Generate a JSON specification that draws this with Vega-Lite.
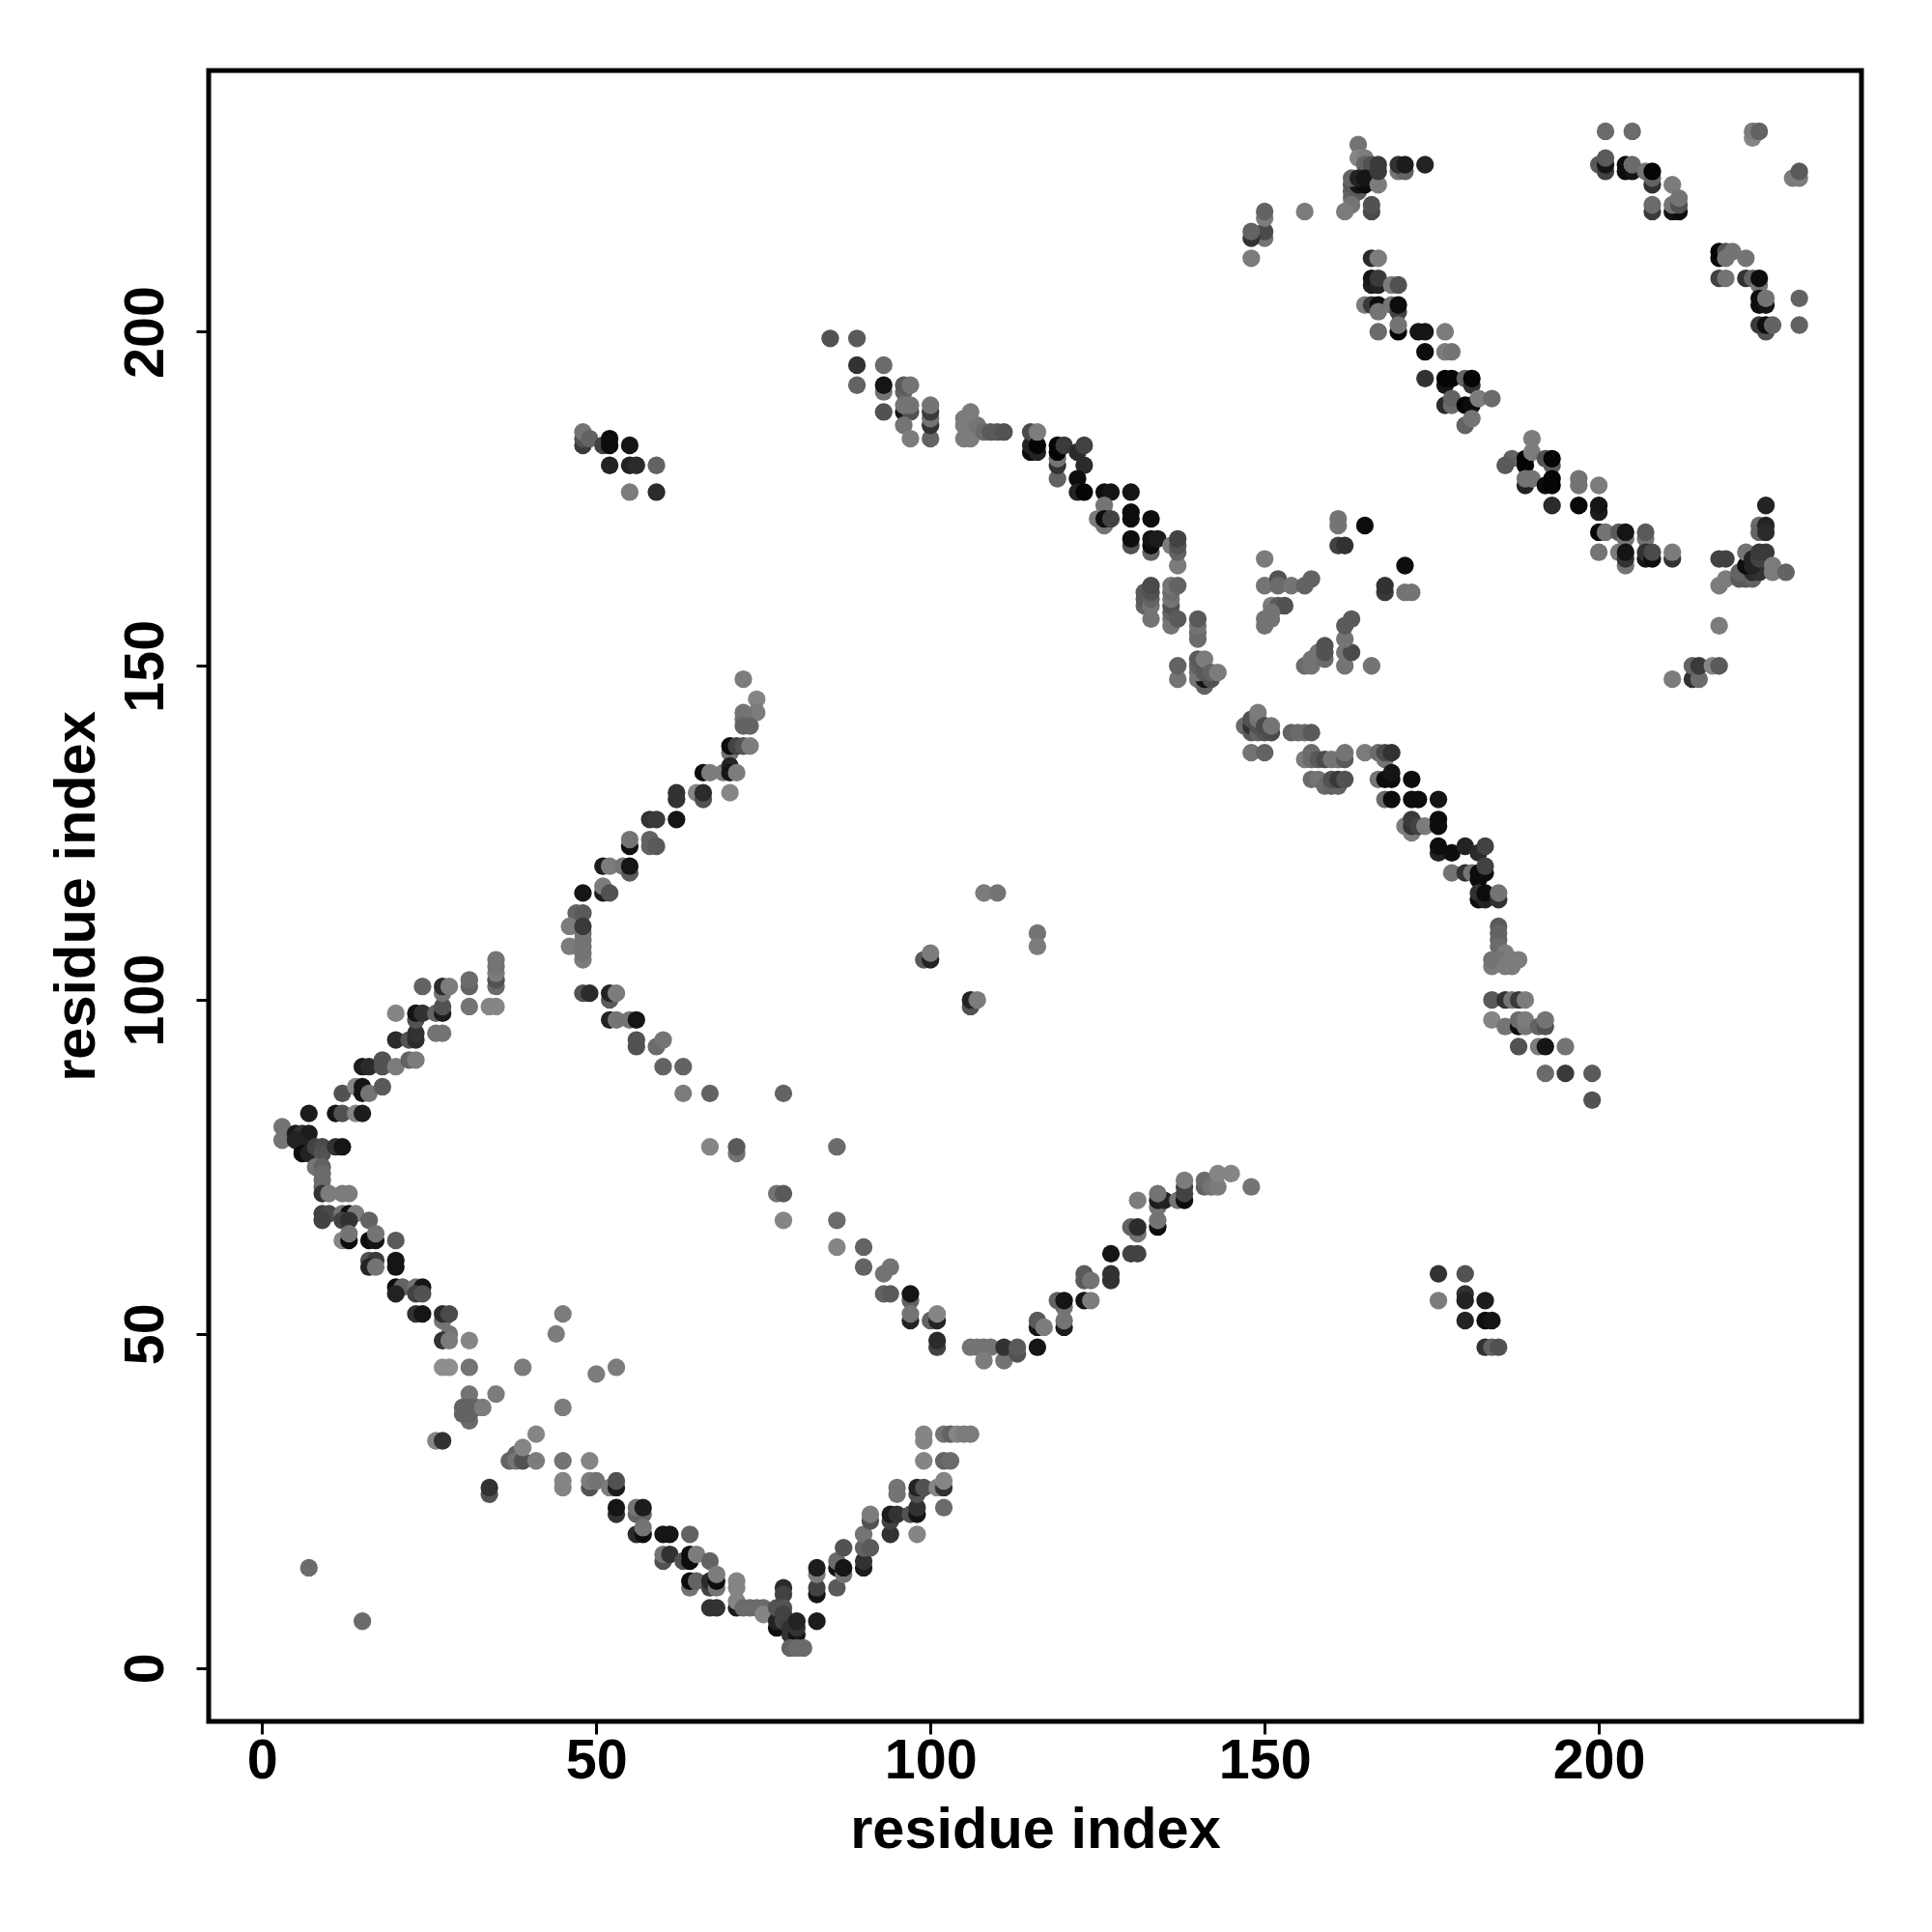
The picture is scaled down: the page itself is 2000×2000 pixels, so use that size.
{"$schema":"https://vega.github.io/schema/vega-lite/v6.json","autosize":"none","padding":{"left":216,"top":73,"right":73,"bottom":218},"width":1711,"height":1709,"background":"white","view":{"stroke":"black","strokeWidth":5,"fill":"white"},
"data":{"values":[
{"i":7,"j":15,"s":0.65},{"i":15,"j":7,"s":0.65},
{"i":3,"j":81,"s":0.7},{"i":3,"j":79,"s":0.7},{"i":5,"j":80,"s":0.15},{"i":6,"j":80,"s":0.3},{"i":7,"j":80,"s":0.15},{"i":5,"j":79,"s":0.2},{"i":6,"j":78,"s":0.2},{"i":6,"j":77,"s":0.05},{"i":7,"j":77,"s":0.2},{"i":8,"j":78,"s":0.4},{"i":9,"j":78,"s":0.45},{"i":9,"j":77,"s":0.5},{"i":11,"j":78,"s":0.3},{"i":12,"j":78,"s":0.1},
{"i":8,"j":75,"s":0.7},{"i":9,"j":75,"s":0.6},{"i":9,"j":74,"s":0.65},{"i":9,"j":73,"s":0.65},{"i":9,"j":72,"s":0.65},{"i":9,"j":71,"s":0.3},{"i":10,"j":71,"s":0.75},{"i":12,"j":71,"s":0.75},{"i":13,"j":71,"s":0.75},
{"i":9,"j":68,"s":0.4},{"i":10,"j":68,"s":0.45},{"i":9,"j":67,"s":0.4},{"i":12,"j":68,"s":0.7},{"i":13,"j":68,"s":0.05},{"i":14,"j":68,"s":0.75},{"i":12,"j":67,"s":0.4},{"i":13,"j":67,"s":0.3},{"i":16,"j":67,"s":0.6},
{"i":12,"j":64,"s":0.8},{"i":13,"j":64,"s":0.05},{"i":13,"j":65,"s":0.7},{"i":16,"j":64,"s":0.05},{"i":17,"j":64,"s":0.1},{"i":17,"j":65,"s":0.7},{"i":20,"j":64,"s":0.55},
{"i":16,"j":61,"s":0.5},{"i":17,"j":61,"s":0.35},{"i":20,"j":61,"s":0.1},{"i":16,"j":60,"s":0.2},{"i":17,"j":60,"s":0.7},{"i":20,"j":60,"s":0.1},
{"i":20,"j":57,"s":0.05},{"i":21,"j":57,"s":0.6},{"i":23,"j":57,"s":0.7},{"i":24,"j":57,"s":0.1},{"i":20,"j":56,"s":0.2},{"i":23,"j":56,"s":0.4},{"i":24,"j":56,"s":0.5},
{"i":23,"j":53,"s":0.3},{"i":24,"j":53,"s":0.1},{"i":27,"j":52,"s":0.7},{"i":27,"j":53,"s":0.25},{"i":28,"j":53,"s":0.45},{"i":45,"j":53,"s":0.75},{"i":28,"j":50,"s":0.7},{"i":44,"j":50,"s":0.75},{"i":27,"j":49,"s":0.3},{"i":28,"j":49,"s":0.75},{"i":31,"j":49,"s":0.8},
{"i":27,"j":45,"s":0.85},{"i":28,"j":45,"s":0.85},{"i":31,"j":45,"s":0.7},{"i":39,"j":45,"s":0.75},{"i":53,"j":45,"s":0.75},{"i":50,"j":44,"s":0.75},{"i":31,"j":41,"s":0.7},{"i":35,"j":41,"s":0.75},
{"i":31,"j":37,"s":0.65},{"i":30,"j":38,"s":0.6},{"i":31,"j":38,"s":0.6},{"i":30,"j":39,"s":0.6},{"i":31,"j":39,"s":0.6},{"i":32,"j":39,"s":0.6},{"i":33,"j":39,"s":0.75},{"i":45,"j":39,"s":0.75},
{"i":26,"j":34,"s":0.8},{"i":27,"j":34,"s":0.3},{"i":41,"j":35,"s":0.8},{"i":38,"j":32,"s":0.6},{"i":37,"j":31,"s":0.6},{"i":38,"j":31,"s":0.7},{"i":39,"j":31,"s":0.5},{"i":39,"j":33,"s":0.8},{"i":41,"j":31,"s":0.75},{"i":45,"j":31,"s":0.7},{"i":49,"j":31,"s":0.8},
{"i":34,"j":26,"s":0.5},{"i":34,"j":27,"s":0.3},{"i":45,"j":27,"s":0.8},{"i":45,"j":28,"s":0.8},{"i":49,"j":27,"s":0.5},{"i":49,"j":28,"s":0.75},{"i":50,"j":28,"s":0.7},{"i":52,"j":27,"s":0.75},{"i":53,"j":27,"s":0.15},{"i":53,"j":28,"s":0.5},
{"i":53,"j":23,"s":0.3},{"i":53,"j":24,"s":0.1},{"i":56,"j":23,"s":0.6},{"i":57,"j":23,"s":0.6},{"i":56,"j":24,"s":0.7},{"i":57,"j":24,"s":0.15},
{"i":56,"j":20,"s":0.25},{"i":57,"j":20,"s":0.05},{"i":57,"j":21,"s":0.7},{"i":60,"j":20,"s":0.1},{"i":61,"j":20,"s":0.1},{"i":64,"j":20,"s":0.6},
{"i":60,"j":16,"s":0.5},{"i":60,"j":17,"s":0.7},{"i":61,"j":17,"s":0.3},{"i":63,"j":16,"s":0.5},{"i":64,"j":16,"s":0.05},{"i":64,"j":17,"s":0.05},{"i":65,"j":17,"s":0.75},{"i":67,"j":16,"s":0.6},
{"i":64,"j":12,"s":0.7},{"i":64,"j":13,"s":0.05},{"i":65,"j":13,"s":0.6},{"i":67,"j":12,"s":0.4},{"i":67,"j":13,"s":0.25},{"i":68,"j":12,"s":0.7},{"i":68,"j":13,"s":0.05},{"i":68,"j":14,"s":0.75},{"i":67,"j":9,"s":0.3},{"i":68,"j":9,"s":0.3},
{"i":71,"j":9,"s":0.15},{"i":71,"j":10,"s":0.8},{"i":71,"j":12,"s":0.8},{"i":71,"j":13,"s":0.8},{"i":72,"j":9,"s":0.65},{"i":73,"j":9,"s":0.65},{"i":74,"j":9,"s":0.65},{"i":75,"j":9,"s":0.65},{"i":75,"j":8,"s":0.8},
{"i":77,"j":6,"s":0.05},{"i":77,"j":7,"s":0.2},{"i":77,"j":9,"s":0.5},{"i":78,"j":12,"s":0.25},{"i":78,"j":11,"s":0.4},{"i":78,"j":9,"s":0.5},{"i":78,"j":8,"s":0.4},{"i":78,"j":7,"s":0.4},{"i":79,"j":6,"s":0.3},{"i":79,"j":5,"s":0.3},{"i":80,"j":5,"s":0.1},{"i":80,"j":6,"s":0.3},{"i":80,"j":7,"s":0.2},{"i":79,"j":3,"s":0.6},{"i":80,"j":3,"s":0.65},{"i":81,"j":3,"s":0.65},{"i":83,"j":7,"s":0.15},
{"i":83,"j":11,"s":0.1},{"i":83,"j":12,"s":0.4},{"i":83,"j":14,"s":0.75},{"i":83,"j":15,"s":0.15},{"i":86,"j":12,"s":0.55},{"i":86,"j":15,"s":0.1},{"i":86,"j":16,"s":0.65},{"i":87,"j":14,"s":0.7},{"i":87,"j":15,"s":0.1},{"i":87,"j":18,"s":0.5},
{"i":90,"j":15,"s":0.15},{"i":90,"j":16,"s":0.3},{"i":90,"j":18,"s":0.6},{"i":90,"j":20,"s":0.7},{"i":91,"j":18,"s":0.55},{"i":91,"j":22,"s":0.5},{"i":91,"j":23,"s":0.75},
{"i":94,"j":20,"s":0.3},{"i":94,"j":22,"s":0.4},{"i":94,"j":23,"s":0.15},{"i":95,"j":23,"s":0.3},{"i":95,"j":26,"s":0.7},{"i":95,"j":27,"s":0.7},{"i":97,"j":23,"s":0.5},{"i":98,"j":20,"s":0.8},{"i":98,"j":23,"s":0.1},{"i":98,"j":24,"s":0.3},{"i":98,"j":26,"s":0.5},{"i":98,"j":27,"s":0.2},{"i":99,"j":27,"s":0.5},{"i":101,"j":27,"s":0.8},{"i":102,"j":27,"s":0.3},{"i":102,"j":28,"s":0.8},{"i":102,"j":24,"s":0.65},
{"i":99,"j":31,"s":0.8},{"i":102,"j":31,"s":0.6},{"i":103,"j":31,"s":0.65},{"i":99,"j":34,"s":0.8},{"i":99,"j":35,"s":0.8},{"i":102,"j":35,"s":0.7},{"i":103,"j":35,"s":0.6},{"i":104,"j":35,"s":0.8},{"i":105,"j":35,"s":0.75},{"i":106,"j":35,"s":0.75},
{"i":7,"j":83,"s":0.15},{"i":11,"j":83,"s":0.1},{"i":12,"j":83,"s":0.5},{"i":14,"j":83,"s":0.8},{"i":15,"j":83,"s":0.15},{"i":12,"j":86,"s":0.5},{"i":14,"j":87,"s":0.8},{"i":15,"j":86,"s":0.1},{"i":15,"j":87,"s":0.1},{"i":16,"j":86,"s":0.7},{"i":18,"j":87,"s":0.55},
{"i":15,"j":90,"s":0.15},{"i":16,"j":90,"s":0.25},{"i":18,"j":90,"s":0.5},{"i":18,"j":91,"s":0.5},{"i":20,"j":90,"s":0.75},{"i":22,"j":91,"s":0.6},{"i":23,"j":91,"s":0.75},{"i":20,"j":94,"s":0.25},{"i":22,"j":94,"s":0.5},{"i":23,"j":94,"s":0.25},{"i":23,"j":95,"s":0.3},{"i":26,"j":95,"s":0.7},{"i":27,"j":95,"s":0.7},{"i":23,"j":97,"s":0.5},
{"i":20,"j":98,"s":0.8},{"i":23,"j":98,"s":0.1},{"i":24,"j":98,"s":0.3},{"i":26,"j":98,"s":0.6},{"i":27,"j":98,"s":0.15},{"i":27,"j":99,"s":0.5},{"i":24,"j":102,"s":0.6},{"i":27,"j":101,"s":0.7},{"i":27,"j":102,"s":0.25},{"i":28,"j":102,"s":0.75},
{"i":31,"j":99,"s":0.7},{"i":31,"j":102,"s":0.6},{"i":31,"j":103,"s":0.65},{"i":34,"j":99,"s":0.8},{"i":35,"j":99,"s":0.8},{"i":35,"j":102,"s":0.65},{"i":35,"j":103,"s":0.5},{"i":35,"j":104,"s":0.75},{"i":35,"j":105,"s":0.7},{"i":35,"j":106,"s":0.7},
{"i":67,"j":86,"s":0.6},{"i":78,"j":86,"s":0.6},{"i":67,"j":78,"s":0.8},{"i":71,"j":77,"s":0.7},{"i":71,"j":78,"s":0.55},{"i":86,"j":78,"s":0.65},{"i":77,"j":71,"s":0.7},{"i":78,"j":71,"s":0.55},{"i":78,"j":67,"s":0.8},{"i":86,"j":67,"s":0.65},{"i":86,"j":63,"s":0.8},{"i":90,"j":63,"s":0.6},{"i":90,"j":60,"s":0.6},{"i":94,"j":60,"s":0.7},{"i":93,"j":59,"s":0.7},{"i":93,"j":56,"s":0.6},{"i":94,"j":56,"s":0.55},{"i":97,"j":55,"s":0.6},{"i":97,"j":56,"s":0.1},{"i":97,"j":52,"s":0.2},{"i":97,"j":53,"s":0.7},{"i":100,"j":52,"s":0.6},{"i":101,"j":52,"s":0.2},{"i":101,"j":53,"s":0.8},{"i":101,"j":48,"s":0.4},{"i":101,"j":49,"s":0.25},
{"i":106,"j":48,"s":0.7},{"i":107,"j":48,"s":0.7},{"i":108,"j":48,"s":0.7},{"i":109,"j":48,"s":0.7},{"i":108,"j":46,"s":0.75},{"i":111,"j":46,"s":0.7},{"i":111,"j":48,"s":0.3},{"i":113,"j":47,"s":0.5},{"i":113,"j":48,"s":0.55},{"i":116,"j":48,"s":0.1},
{"i":116,"j":51,"s":0.1},{"i":116,"j":52,"s":0.55},{"i":117,"j":51,"s":0.75},{"i":120,"j":51,"s":0.15},{"i":120,"j":52,"s":0.7},{"i":120,"j":54,"s":0.7},{"i":119,"j":55,"s":0.6},{"i":120,"j":55,"s":0.1},{"i":123,"j":55,"s":0.1},{"i":124,"j":55,"s":0.75},
{"i":123,"j":58,"s":0.55},{"i":123,"j":59,"s":0.55},{"i":124,"j":58,"s":0.7},{"i":127,"j":58,"s":0.3},{"i":127,"j":59,"s":0.3},{"i":127,"j":62,"s":0.1},{"i":130,"j":62,"s":0.4},{"i":131,"j":62,"s":0.4},{"i":131,"j":65,"s":0.7},{"i":130,"j":66,"s":0.6},{"i":131,"j":66,"s":0.25},{"i":134,"j":66,"s":0.05},{"i":134,"j":67,"s":0.7},{"i":134,"j":69,"s":0.7},{"i":131,"j":70,"s":0.75},{"i":134,"j":70,"s":0.15},{"i":135,"j":70,"s":0.2},{"i":134,"j":71,"s":0.7},{"i":137,"j":70,"s":0.7},{"i":138,"j":70,"s":0.05},{"i":138,"j":71,"s":0.4},{"i":138,"j":72,"s":0.4},{"i":138,"j":73,"s":0.75},{"i":141,"j":72,"s":0.6},{"i":141,"j":73,"s":0.65},{"i":142,"j":72,"s":0.7},{"i":143,"j":72,"s":0.75},{"i":143,"j":74,"s":0.8},{"i":145,"j":74,"s":0.8},{"i":148,"j":72,"s":0.7},
{"i":72,"j":148,"s":0.75},{"i":74,"j":145,"s":0.8},{"i":74,"j":143,"s":0.75},{"i":72,"j":143,"s":0.7},{"i":72,"j":142,"s":0.7},{"i":72,"j":141,"s":0.6},{"i":73,"j":141,"s":0.6},{"i":70,"j":137,"s":0.7},{"i":70,"j":138,"s":0.05},{"i":71,"j":138,"s":0.4},{"i":72,"j":138,"s":0.5},{"i":73,"j":138,"s":0.75},{"i":66,"j":134,"s":0.05},{"i":67,"j":134,"s":0.75},{"i":69,"j":134,"s":0.75},{"i":70,"j":135,"s":0.2},{"i":70,"j":134,"s":0.1},{"i":71,"j":134,"s":0.75},{"i":70,"j":131,"s":0.8},{"i":65,"j":131,"s":0.8},{"i":66,"j":130,"s":0.5},{"i":66,"j":131,"s":0.25},{"i":62,"j":131,"s":0.3},{"i":62,"j":130,"s":0.3},{"i":58,"j":127,"s":0.3},{"i":59,"j":127,"s":0.35},{"i":62,"j":127,"s":0.1},{"i":55,"j":123,"s":0.05},{"i":55,"j":124,"s":0.7},{"i":58,"j":123,"s":0.6},{"i":58,"j":124,"s":0.6},{"i":59,"j":123,"s":0.55},{"i":51,"j":120,"s":0.15},{"i":52,"j":120,"s":0.75},{"i":54,"j":120,"s":0.7},{"i":55,"j":119,"s":0.55},{"i":55,"j":120,"s":0.1},{"i":48,"j":116,"s":0.1},{"i":51,"j":116,"s":0.15},{"i":51,"j":117,"s":0.75},{"i":52,"j":116,"s":0.5},
{"i":47,"j":113,"s":0.6},{"i":48,"j":113,"s":0.55},{"i":46,"j":111,"s":0.75},{"i":46,"j":108,"s":0.75},{"i":48,"j":106,"s":0.75},{"i":48,"j":107,"s":0.7},{"i":48,"j":108,"s":0.7},{"i":48,"j":109,"s":0.7},{"i":48,"j":110,"s":0.7},{"i":48,"j":111,"s":0.35},
{"i":48,"j":101,"s":0.5},{"i":49,"j":101,"s":0.25},{"i":52,"j":100,"s":0.55},{"i":52,"j":101,"s":0.2},{"i":53,"j":101,"s":0.75},{"i":52,"j":97,"s":0.2},{"i":53,"j":97,"s":0.7},{"i":55,"j":97,"s":0.7},{"i":56,"j":97,"s":0.1},{"i":56,"j":93,"s":0.5},{"i":56,"j":94,"s":0.5},{"i":59,"j":93,"s":0.65},{"i":60,"j":94,"s":0.7},{"i":60,"j":90,"s":0.6},{"i":63,"j":90,"s":0.6},{"i":63,"j":86,"s":0.75},
{"i":108,"j":116,"s":0.75},{"i":110,"j":116,"s":0.7},{"i":99,"j":106,"s":0.55},{"i":100,"j":106,"s":0.2},{"i":100,"j":107,"s":0.75},{"i":106,"j":99,"s":0.5},{"i":106,"j":100,"s":0.2},{"i":107,"j":100,"s":0.75},{"i":116,"j":110,"s":0.7},{"i":116,"j":108,"s":0.75},
{"i":48,"j":183,"s":0.35},{"i":48,"j":184,"s":0.5},{"i":48,"j":185,"s":0.7},{"i":49,"j":184,"s":0.6},{"i":51,"j":183,"s":0.4},{"i":52,"j":184,"s":0.05},{"i":52,"j":183,"s":0.05},{"i":55,"j":183,"s":0.1},{"i":52,"j":180,"s":0.2},{"i":55,"j":180,"s":0.2},{"i":56,"j":180,"s":0.25},{"i":59,"j":180,"s":0.6},{"i":55,"j":176,"s":0.75},{"i":59,"j":176,"s":0.25},
{"i":85,"j":199,"s":0.5},{"i":89,"j":199,"s":0.55},{"i":89,"j":195,"s":0.3},{"i":93,"j":195,"s":0.65},{"i":89,"j":192,"s":0.6},{"i":93,"j":191,"s":0.7},{"i":93,"j":192,"s":0.1},{"i":96,"j":191,"s":0.6},{"i":96,"j":192,"s":0.55},{"i":97,"j":192,"s":0.7},{"i":93,"j":188,"s":0.5},{"i":96,"j":188,"s":0.1},{"i":97,"j":188,"s":0.5},{"i":96,"j":189,"s":0.7},{"i":97,"j":189,"s":0.7},{"i":96,"j":186,"s":0.7},{"i":97,"j":184,"s":0.75},{"i":100,"j":184,"s":0.6},{"i":100,"j":186,"s":0.3},{"i":100,"j":187,"s":0.7},{"i":100,"j":188,"s":0.35},{"i":100,"j":189,"s":0.7},
{"i":105,"j":184,"s":0.75},{"i":106,"j":184,"s":0.75},{"i":105,"j":186,"s":0.75},{"i":105,"j":187,"s":0.75},{"i":107,"j":186,"s":0.7},{"i":106,"j":188,"s":0.75},{"i":108,"j":185,"s":0.65},{"i":109,"j":185,"s":0.55},{"i":110,"j":185,"s":0.55},{"i":111,"j":185,"s":0.5},
{"i":115,"j":182,"s":0.05},{"i":115,"j":183,"s":0.2},{"i":115,"j":185,"s":0.45},{"i":116,"j":182,"s":0.2},{"i":116,"j":183,"s":0.02},{"i":116,"j":185,"s":0.75},{"i":119,"j":178,"s":0.6},{"i":119,"j":180,"s":0.3},{"i":119,"j":181,"s":0.7},{"i":119,"j":182,"s":0.02},{"i":119,"j":183,"s":0.02},{"i":120,"j":183,"s":0.35},{"i":122,"j":182,"s":0.25},{"i":123,"j":183,"s":0.4},{"i":123,"j":180,"s":0.25},{"i":122,"j":178,"s":0.05},{"i":122,"j":176,"s":0.2},{"i":123,"j":176,"s":0.02},{"i":126,"j":176,"s":0.05},{"i":127,"j":176,"s":0.1},{"i":130,"j":176,"s":0.1},
{"i":126,"j":174,"s":0.7},{"i":125,"j":172,"s":0.75},{"i":126,"j":171,"s":0.7},{"i":126,"j":172,"s":0.05},{"i":127,"j":172,"s":0.4},{"i":130,"j":172,"s":0.05},{"i":130,"j":173,"s":0.05},{"i":133,"j":172,"s":0.05},{"i":130,"j":168,"s":0.5},{"i":130,"j":169,"s":0.05},{"i":133,"j":167,"s":0.6},{"i":133,"j":168,"s":0.05},{"i":133,"j":169,"s":0.1},{"i":134,"j":169,"s":0.15},{"i":136,"j":168,"s":0.75},{"i":137,"j":165,"s":0.75},{"i":137,"j":167,"s":0.6},{"i":137,"j":168,"s":0.5},{"i":137,"j":169,"s":0.4},
{"i":132,"j":159,"s":0.6},{"i":132,"j":160,"s":0.55},{"i":132,"j":161,"s":0.55},{"i":133,"j":157,"s":0.7},{"i":133,"j":159,"s":0.7},{"i":133,"j":160,"s":0.6},{"i":133,"j":161,"s":0.5},{"i":133,"j":162,"s":0.45},{"i":136,"j":156,"s":0.7},{"i":136,"j":157,"s":0.7},{"i":136,"j":158,"s":0.6},{"i":136,"j":159,"s":0.5},{"i":136,"j":160,"s":0.7},{"i":136,"j":161,"s":0.65},{"i":136,"j":162,"s":0.7},{"i":137,"j":162,"s":0.6},{"i":137,"j":157,"s":0.55},
{"i":140,"j":154,"s":0.65},{"i":140,"j":155,"s":0.65},{"i":140,"j":156,"s":0.7},{"i":140,"j":157,"s":0.55},{"i":137,"j":148,"s":0.7},{"i":137,"j":150,"s":0.6},{"i":140,"j":148,"s":0.7},{"i":141,"j":147,"s":0.6},{"i":141,"j":148,"s":0.1},{"i":142,"j":148,"s":0.5},{"i":140,"j":149,"s":0.7},{"i":140,"j":150,"s":0.6},{"i":140,"j":151,"s":0.55},{"i":141,"j":149,"s":0.55},{"i":141,"j":151,"s":0.75},{"i":142,"j":149,"s":0.6},{"i":143,"j":149,"s":0.75},
{"i":147,"j":141,"s":0.65},{"i":148,"j":140,"s":0.55},{"i":148,"j":141,"s":0.3},{"i":148,"j":142,"s":0.5},{"i":149,"j":140,"s":0.6},{"i":149,"j":141,"s":0.5},{"i":149,"j":142,"s":0.7},{"i":149,"j":143,"s":0.75},{"i":150,"j":140,"s":0.5},{"i":150,"j":141,"s":0.45},{"i":151,"j":140,"s":0.45},{"i":151,"j":141,"s":0.7},{"i":148,"j":137,"s":0.7},{"i":150,"j":137,"s":0.6},
{"i":154,"j":140,"s":0.6},{"i":155,"j":140,"s":0.65},{"i":156,"j":140,"s":0.65},{"i":157,"j":140,"s":0.55},{"i":156,"j":136,"s":0.75},{"i":157,"j":136,"s":0.65},{"i":157,"j":137,"s":0.65},{"i":158,"j":136,"s":0.55},{"i":159,"j":136,"s":0.45},{"i":160,"j":136,"s":0.7},{"i":161,"j":136,"s":0.7},{"i":162,"j":136,"s":0.55},{"i":162,"j":137,"s":0.7},
{"i":157,"j":133,"s":0.65},{"i":158,"j":133,"s":0.7},{"i":159,"j":132,"s":0.65},{"i":160,"j":132,"s":0.6},{"i":161,"j":132,"s":0.6},{"i":160,"j":133,"s":0.5},{"i":161,"j":133,"s":0.35},{"i":162,"j":133,"s":0.5},
{"i":165,"j":137,"s":0.75},{"i":167,"j":137,"s":0.65},{"i":168,"j":136,"s":0.7},{"i":168,"j":137,"s":0.45},{"i":169,"j":137,"s":0.3},{"i":167,"j":133,"s":0.7},{"i":168,"j":133,"s":0.05},{"i":169,"j":133,"s":0.05},{"i":169,"j":134,"s":0.1},{"i":172,"j":133,"s":0.05},{"i":168,"j":130,"s":0.65},{"i":169,"j":130,"s":0.05},{"i":172,"j":130,"s":0.05},{"i":173,"j":130,"s":0.05},{"i":176,"j":130,"s":0.1},
{"i":171,"j":126,"s":0.75},{"i":172,"j":125,"s":0.75},{"i":172,"j":126,"s":0.3},{"i":172,"j":127,"s":0.35},{"i":173,"j":126,"s":0.4},{"i":174,"j":126,"s":0.75},{"i":176,"j":126,"s":0.05},{"i":176,"j":127,"s":0.05},{"i":176,"j":122,"s":0.2},{"i":176,"j":123,"s":0.05},{"i":178,"j":122,"s":0.05},{"i":180,"j":123,"s":0.2},{"i":182,"j":122,"s":0.25},{"i":183,"j":123,"s":0.4},
{"i":178,"j":119,"s":0.7},{"i":180,"j":119,"s":0.3},{"i":181,"j":119,"s":0.7},{"i":182,"j":118,"s":0.05},{"i":182,"j":119,"s":0.05},{"i":183,"j":119,"s":0.05},{"i":183,"j":120,"s":0.4},{"i":182,"j":115,"s":0.05},{"i":182,"j":116,"s":0.3},{"i":183,"j":115,"s":0.2},{"i":183,"j":116,"s":0.05},{"i":185,"j":115,"s":0.3},{"i":185,"j":116,"s":0.7},
{"i":185,"j":111,"s":0.55},{"i":185,"j":110,"s":0.6},{"i":185,"j":109,"s":0.6},{"i":185,"j":108,"s":0.65},{"i":186,"j":107,"s":0.75},{"i":184,"j":105,"s":0.75},{"i":184,"j":106,"s":0.7},{"i":185,"j":106,"s":0.7},{"i":186,"j":105,"s":0.75},{"i":187,"j":105,"s":0.75},{"i":187,"j":106,"s":0.75},{"i":188,"j":106,"s":0.75},
{"i":184,"j":100,"s":0.55},{"i":186,"j":100,"s":0.3},{"i":187,"j":100,"s":0.7},{"i":188,"j":100,"s":0.35},{"i":189,"j":100,"s":0.75},{"i":184,"j":97,"s":0.8},{"i":186,"j":96,"s":0.7},{"i":188,"j":96,"s":0.05},{"i":188,"j":97,"s":0.65},{"i":189,"j":96,"s":0.7},{"i":189,"j":97,"s":0.75},{"i":191,"j":96,"s":0.6},{"i":192,"j":96,"s":0.5},{"i":192,"j":97,"s":0.7},
{"i":188,"j":93,"s":0.5},{"i":191,"j":93,"s":0.75},{"i":192,"j":93,"s":0.1},{"i":195,"j":93,"s":0.7},{"i":192,"j":89,"s":0.65},{"i":195,"j":89,"s":0.35},{"i":199,"j":89,"s":0.55},{"i":199,"j":85,"s":0.5},
{"i":176,"j":59,"s":0.3},{"i":176,"j":55,"s":0.75},{"i":180,"j":59,"s":0.5},{"i":180,"j":56,"s":0.3},{"i":180,"j":55,"s":0.2},{"i":180,"j":52,"s":0.2},{"i":183,"j":55,"s":0.15},{"i":183,"j":52,"s":0.05},{"i":184,"j":52,"s":0.1},{"i":183,"j":48,"s":0.3},{"i":184,"j":48,"s":0.6},{"i":185,"j":48,"s":0.5},
{"i":161,"j":172,"s":0.7},{"i":161,"j":171,"s":0.7},{"i":165,"j":171,"s":0.05},{"i":161,"j":168,"s":0.4},{"i":162,"j":168,"s":0.3},{"i":171,"j":165,"s":0.05},{"i":168,"j":161,"s":0.35},{"i":168,"j":162,"s":0.3},{"i":171,"j":161,"s":0.7},{"i":172,"j":161,"s":0.7},
{"i":150,"j":166,"s":0.75},{"i":150,"j":162,"s":0.7},{"i":152,"j":163,"s":0.5},{"i":152,"j":162,"s":0.65},{"i":154,"j":162,"s":0.7},{"i":156,"j":162,"s":0.6},{"i":157,"j":163,"s":0.6},{"i":151,"j":159,"s":0.75},{"i":152,"j":159,"s":0.55},{"i":153,"j":159,"s":0.5},{"i":151,"j":158,"s":0.7},{"i":150,"j":157,"s":0.7},{"i":151,"j":157,"s":0.7},{"i":150,"j":156,"s":0.7},
{"i":162,"j":150,"s":0.7},{"i":166,"j":150,"s":0.7},{"i":162,"j":152,"s":0.7},{"i":163,"j":152,"s":0.45},{"i":162,"j":154,"s":0.7},{"i":162,"j":156,"s":0.55},{"i":163,"j":157,"s":0.55},{"i":156,"j":150,"s":0.65},{"i":157,"j":150,"s":0.7},{"i":157,"j":151,"s":0.7},{"i":158,"j":152,"s":0.7},{"i":159,"j":151,"s":0.65},{"i":159,"j":152,"s":0.5},{"i":159,"j":153,"s":0.5},
{"i":164,"j":228,"s":0.7},{"i":164,"j":226,"s":0.8},{"i":165,"j":226,"s":0.75},{"i":165,"j":225,"s":0.6},{"i":166,"j":225,"s":0.5},{"i":163,"j":220,"s":0.65},{"i":163,"j":221,"s":0.6},{"i":164,"j":221,"s":0.55},{"i":163,"j":222,"s":0.55},{"i":164,"j":222,"s":0.1},{"i":165,"j":222,"s":0.05},{"i":163,"j":223,"s":0.6},{"i":164,"j":223,"s":0.2},{"i":165,"j":223,"s":0.1},{"i":167,"j":222,"s":0.75},{"i":167,"j":224,"s":0.35},{"i":167,"j":225,"s":0.35},{"i":170,"j":224,"s":0.7},{"i":171,"j":224,"s":0.6},{"i":170,"j":225,"s":0.3},{"i":171,"j":225,"s":0.15},{"i":174,"j":225,"s":0.2},
{"i":163,"j":219,"s":0.7},{"i":162,"j":218,"s":0.75},{"i":166,"j":218,"s":0.45},{"i":166,"j":219,"s":0.5},{"i":156,"j":218,"s":0.75},{"i":150,"j":214,"s":0.7},{"i":150,"j":215,"s":0.45},{"i":150,"j":217,"s":0.75},{"i":150,"j":218,"s":0.6},{"i":148,"j":214,"s":0.3},{"i":148,"j":215,"s":0.6},{"i":148,"j":211,"s":0.75},
{"i":166,"j":211,"s":0.25},{"i":167,"j":211,"s":0.75},{"i":166,"j":207,"s":0.15},{"i":166,"j":208,"s":0.1},{"i":167,"j":207,"s":0.2},{"i":167,"j":208,"s":0.35},{"i":169,"j":207,"s":0.75},{"i":170,"j":207,"s":0.5},{"i":165,"j":204,"s":0.75},{"i":166,"j":204,"s":0.35},{"i":167,"j":204,"s":0.05},{"i":167,"j":203,"s":0.7},{"i":169,"j":204,"s":0.7},{"i":170,"j":203,"s":0.4},{"i":170,"j":204,"s":0.05},
{"i":167,"j":200,"s":0.65},{"i":170,"j":200,"s":0.02},{"i":170,"j":201,"s":0.7},{"i":173,"j":200,"s":0.1},{"i":174,"j":200,"s":0.1},{"i":177,"j":200,"s":0.75},{"i":174,"j":197,"s":0.05},{"i":177,"j":197,"s":0.75},{"i":178,"j":197,"s":0.7},{"i":174,"j":193,"s":0.3},{"i":177,"j":192,"s":0.1},{"i":177,"j":193,"s":0.02},{"i":178,"j":193,"s":0.02},{"i":180,"j":193,"s":0.6},{"i":181,"j":192,"s":0.3},{"i":181,"j":193,"s":0.02},
{"i":177,"j":189,"s":0.25},{"i":178,"j":189,"s":0.65},{"i":178,"j":190,"s":0.6},{"i":180,"j":189,"s":0.02},{"i":181,"j":189,"s":0.05},{"i":182,"j":190,"s":0.75},{"i":184,"j":190,"s":0.65},{"i":180,"j":186,"s":0.6},{"i":181,"j":187,"s":0.7},
{"i":201,"j":230,"s":0.65},{"i":205,"j":230,"s":0.65},{"i":223,"j":229,"s":0.8},{"i":223,"j":230,"s":0.75},{"i":224,"j":230,"s":0.6},{"i":200,"j":225,"s":0.55},{"i":201,"j":224,"s":0.4},{"i":201,"j":225,"s":0.1},{"i":201,"j":226,"s":0.55},{"i":204,"j":224,"s":0.05},{"i":205,"j":224,"s":0.1},{"i":204,"j":225,"s":0.05},{"i":205,"j":225,"s":0.65},{"i":207,"j":224,"s":0.7},{"i":208,"j":222,"s":0.3},{"i":208,"j":223,"s":0.6},{"i":208,"j":224,"s":0.02},{"i":211,"j":222,"s":0.75},
{"i":208,"j":218,"s":0.35},{"i":208,"j":219,"s":0.65},{"i":211,"j":218,"s":0.1},{"i":212,"j":218,"s":0.05},{"i":211,"j":219,"s":0.7},{"i":212,"j":219,"s":0.5},{"i":212,"j":220,"s":0.7},{"i":229,"j":223,"s":0.75},{"i":230,"j":223,"s":0.75},{"i":230,"j":224,"s":0.55},
{"i":218,"j":211,"s":0.05},{"i":218,"j":212,"s":0.02},{"i":219,"j":212,"s":0.5},{"i":219,"j":211,"s":0.7},{"i":220,"j":212,"s":0.7},{"i":222,"j":211,"s":0.7},{"i":218,"j":208,"s":0.4},{"i":219,"j":208,"s":0.7},{"i":222,"j":208,"s":0.3},{"i":223,"j":208,"s":0.6},{"i":224,"j":207,"s":0.7},{"i":224,"j":208,"s":0.05},
{"i":224,"j":204,"s":0.05},{"i":224,"j":205,"s":0.05},{"i":225,"j":204,"s":0.1},{"i":225,"j":205,"s":0.7},{"i":230,"j":205,"s":0.6},{"i":225,"j":200,"s":0.5},{"i":224,"j":201,"s":0.35},{"i":225,"j":201,"s":0.05},{"i":226,"j":201,"s":0.6},{"i":230,"j":201,"s":0.6},
{"i":190,"j":184,"s":0.75},{"i":187,"j":181,"s":0.6},{"i":186,"j":180,"s":0.55},{"i":189,"j":180,"s":0.02},{"i":189,"j":181,"s":0.02},{"i":190,"j":182,"s":0.75},{"i":192,"j":181,"s":0.5},{"i":193,"j":180,"s":0.55},{"i":193,"j":181,"s":0.02},{"i":189,"j":177,"s":0.2},{"i":189,"j":178,"s":0.7},{"i":190,"j":178,"s":0.7},{"i":192,"j":177,"s":0.05},{"i":193,"j":177,"s":0.02},{"i":193,"j":178,"s":0.02},{"i":197,"j":177,"s":0.7},{"i":197,"j":178,"s":0.7},{"i":200,"j":177,"s":0.75},
{"i":193,"j":174,"s":0.25},{"i":197,"j":174,"s":0.03},{"i":200,"j":173,"s":0.15},{"i":200,"j":174,"s":0.1},{"i":200,"j":170,"s":0.03},{"i":201,"j":170,"s":0.7},{"i":203,"j":170,"s":0.55},{"i":204,"j":169,"s":0.7},{"i":204,"j":170,"s":0.1},{"i":207,"j":169,"s":0.7},{"i":207,"j":170,"s":0.55},
{"i":200,"j":167,"s":0.7},{"i":203,"j":167,"s":0.75},{"i":204,"j":165,"s":0.7},{"i":204,"j":166,"s":0.3},{"i":204,"j":167,"s":0.1},{"i":207,"j":166,"s":0.1},{"i":207,"j":167,"s":0.3},{"i":208,"j":166,"s":0.05},{"i":208,"j":167,"s":0.45},{"i":211,"j":166,"s":0.3},{"i":211,"j":167,"s":0.75},
{"i":225,"j":174,"s":0.2},{"i":224,"j":171,"s":0.65},{"i":224,"j":170,"s":0.6},{"i":225,"j":171,"s":0.2},{"i":225,"j":170,"s":0.25},{"i":218,"j":166,"s":0.4},{"i":219,"j":166,"s":0.4},{"i":218,"j":162,"s":0.75},{"i":219,"j":163,"s":0.75},{"i":221,"j":163,"s":0.55},{"i":222,"j":163,"s":0.55},{"i":223,"j":163,"s":0.6},{"i":221,"j":164,"s":0.6},{"i":222,"j":164,"s":0.6},{"i":223,"j":164,"s":0.25},{"i":224,"j":164,"s":0.3},{"i":222,"j":165,"s":0.05},{"i":223,"j":165,"s":0.2},{"i":222,"j":167,"s":0.7},{"i":223,"j":166,"s":0.2},{"i":224,"j":166,"s":0.4},{"i":224,"j":167,"s":0.35},{"i":225,"j":167,"s":0.35},{"i":226,"j":164,"s":0.75},{"i":226,"j":165,"s":0.75},{"i":228,"j":164,"s":0.6},
{"i":218,"j":156,"s":0.75},{"i":211,"j":148,"s":0.75},{"i":214,"j":148,"s":0.3},{"i":215,"j":148,"s":0.65},{"i":214,"j":150,"s":0.6},{"i":215,"j":150,"s":0.35},{"i":217,"j":150,"s":0.8},{"i":218,"j":150,"s":0.55}
]},
"mark":{"type":"circle","size":335,"opacity":1,"clip":false,"stroke":null},
"encoding":{
"x":{"field":"i","type":"quantitative","scale":{"domain":[-8,239.3],"nice":false,"zero":false},"axis":{"title":"residue index","values":[0,50,100,150,200],"grid":false,"domain":false,"tickColor":"black","tickWidth":3,"tickSize":13,"labelFont":"Liberation Sans","labelFontWeight":"bold","labelFontSize":57.5,"labelColor":"black","labelPadding":0,"titleFont":"Liberation Sans","titleFontWeight":"bold","titleFontSize":59.5,"titleColor":"black","titlePadding":14}},
"y":{"field":"j","type":"quantitative","scale":{"domain":[-8,239.1],"nice":false,"zero":false},"axis":{"title":"residue index","values":[0,50,100,150,200],"grid":false,"domain":false,"tickColor":"black","tickWidth":3,"tickSize":13,"labelFont":"Liberation Sans","labelFontWeight":"bold","labelFontSize":57.5,"labelColor":"black","labelAngle":-90,"labelAlign":"center","labelBaseline":"bottom","labelPadding":23,"titleFont":"Liberation Sans","titleFontWeight":"bold","titleFontSize":59.5,"titleColor":"black","titlePadding":13}},
"color":{"field":"s","type":"quantitative","legend":null,"scale":{"domain":[0,1],"range":["#000000","#aaaaaa"]}}
}}
